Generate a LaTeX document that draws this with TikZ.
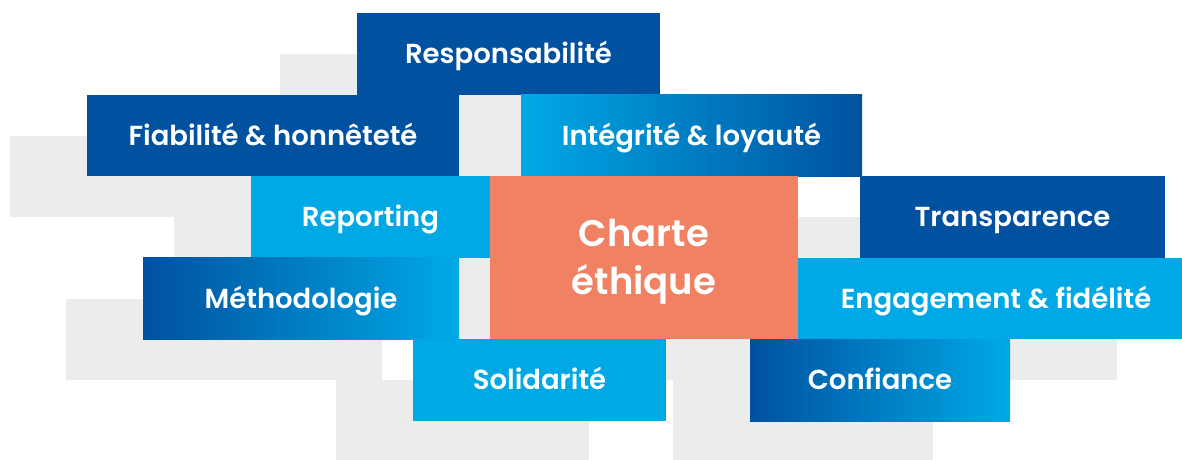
\documentclass[tikz,border=0pt]{standalone}
\usepackage{fontspec}
\setmainfont{Poppins}[BoldFont={Poppins SemiBold}]
\usetikzlibrary{calc}
\pgfdeclarelayer{background}
\pgfsetlayers{background,main}
\definecolor{darkblue}{RGB}{0,81,160}
\definecolor{lightblue}{RGB}{0,169,230}
\definecolor{salmon}{RGB}{240,130,99}
\definecolor{shadowgrey}{RGB}{236,236,236}
\tikzset{
  tile/.style={inner sep=0pt, outer sep=0pt, minimum height=81.6pt, text=white, text height=19.5pt, text depth=0pt, font=\bfseries\fontsize{27.5}{32}\selectfont, anchor=north west},
  dark/.style={tile, fill=darkblue},
  light/.style={tile, fill=lightblue},
  darktolight/.style={tile, left color=darkblue, right color=lightblue},
  lighttodark/.style={tile, left color=lightblue, right color=darkblue},
  centre/.style={tile, fill=salmon, minimum height=163.2pt, font=\bfseries\fontsize{37}{48}\selectfont, align=center, text height=74pt, text depth=0pt},
  shade/.style={fill=shadowgrey}
}
\newcommand{\tileshadow}[1]{%
  \begin{pgfonlayer}{background}
    \fill[shade] ($(#1.north west)+(-77,41)$) rectangle ($(#1.south east)+(-77,41)$);
  \end{pgfonlayer}}
\begin{document}
\begin{tikzpicture}[x=1pt,y=-1pt]
\clip (0,0) rectangle (1182,459);
\node[dark, minimum width=303pt] (resp) at (357,13) {Responsabilité};
\node[dark, minimum width=372pt] (fiab) at (87,94.6) {Fiabilité \& honnêteté};
\node[lighttodark, minimum width=341pt] (integ) at (521,94.6) {Intégrité \& loyauté};
\node[light, minimum width=239pt] (report) at (251,176.2) {Reporting};
\node[centre, minimum width=308pt] (charte) at (490,176.2) {Charte\\éthique};
\node[dark, minimum width=305pt] (transp) at (860,176.2) {Transparence};
\node[darktolight, minimum width=316pt] (metho) at (143,257.8) {Méthodologie};
\node[light, minimum width=396pt] (engag) at (798,257.8) {Engagement \& fidélité};
\node[light, minimum width=253pt] (solid) at (413,339.4) {Solidarité};
\node[darktolight, minimum width=260pt] (conf) at (750,339.4) {Confiance};
\foreach \n in {resp,fiab,integ,report,charte,transp,metho,engag,solid,conf}{\tileshadow{\n}}
\end{tikzpicture}
\end{document}
